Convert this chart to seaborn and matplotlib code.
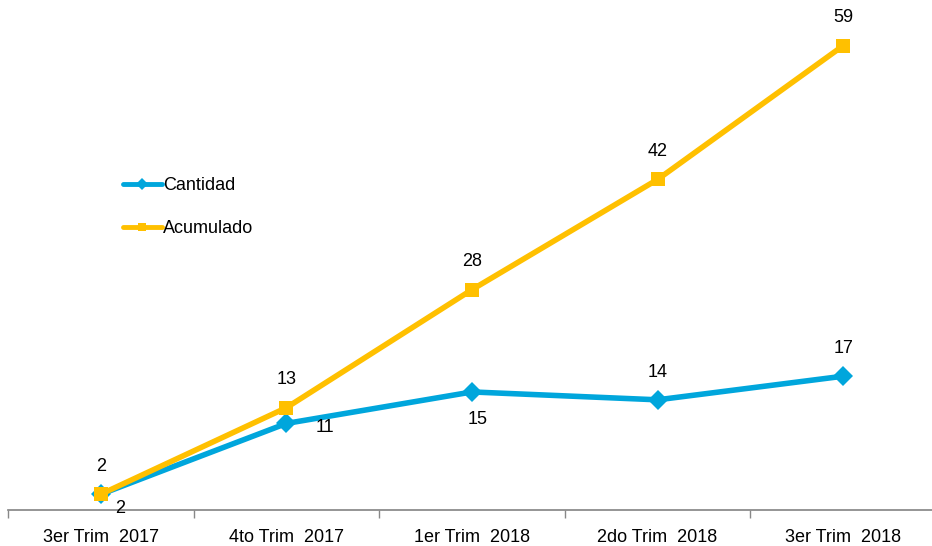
import matplotlib
matplotlib.use("Agg")
import matplotlib.pyplot as plt
import pandas as pd
import seaborn as sns

# data
categories = ["3er Trim  2017", "4to Trim  2017", "1er Trim  2018", "2do Trim  2018", "3er Trim  2018"]
cantidad = [2, 11, 15, 14, 17]
acumulado = [2, 13, 28, 42, 59]

df = pd.DataFrame({
    "pos": list(range(len(categories))) * 2,
    "valor": cantidad + acumulado,
    "serie": ["Cantidad"] * len(cantidad) + ["Acumulado"] * len(acumulado),
})

sns.set_theme(style="white")
plt.rcParams["font.family"] = ["Liberation Sans", "DejaVu Sans"]
plt.rcParams["text.color"] = "black"
plt.rcParams["xtick.color"] = "black"

fig = plt.figure(figsize=(9.32, 5.46), dpi=100)
ax = fig.add_axes([8 / 932, 36 / 546, 928 / 932, 510 / 546])

colors = {"Cantidad": "#00A6DC", "Acumulado": "#FFC000"}
sns.lineplot(data=df, x="pos", y="valor", hue="serie", style="serie",
             palette=colors, markers={"Cantidad": "D", "Acumulado": "s"},
             dashes=False, linewidth=4, markersize=10, markeredgewidth=0,
             ax=ax)

ax.set_xlim(-0.5, len(categories) - 0.5)
ax.set_ylim(0, 64.8)
ax.set_xlabel("")
ax.set_ylabel("")
ax.set_yticks([])
ax.set_xticks(range(len(categories)))
ax.set_xticklabels(categories, fontsize=13, color="black")
ax.set_xticks([i - 0.5 for i in range(len(categories) + 1)], minor=True)
ax.tick_params(axis="x", which="major", length=0, pad=14)
ax.tick_params(axis="x", which="minor", bottom=True, length=6, width=1,
               color="#888888", direction="out")
for s in ["top", "right", "left"]:
    ax.spines[s].set_visible(False)
ax.spines["bottom"].set_color("#888888")

# data labels
cant_off = [(14, -10), (28, -3), (4, -20), (0, 20), (0, 20)]
for i, v in enumerate(cantidad):
    ax.annotate(str(v), (i, v), xytext=cant_off[i], textcoords="offset points",
                ha="center", va="center", fontsize=13, color="black")
for i, v in enumerate(acumulado):
    ax.annotate(str(v), (i, v), xytext=(0, 20), textcoords="offset points",
                ha="center", va="center", fontsize=13, color="black")

leg = ax.legend(loc="upper left", bbox_to_anchor=(0.106, 0.685), frameon=False,
                fontsize=13, handlelength=2.2, handletextpad=0.05, labelspacing=1.45)
for h in leg.get_lines():
    h.set_linewidth(3.5)
    h.set_markersize(6)
for t in leg.get_texts():
    t.set_color("black")

fig.savefig("out.png", dpi=100)
